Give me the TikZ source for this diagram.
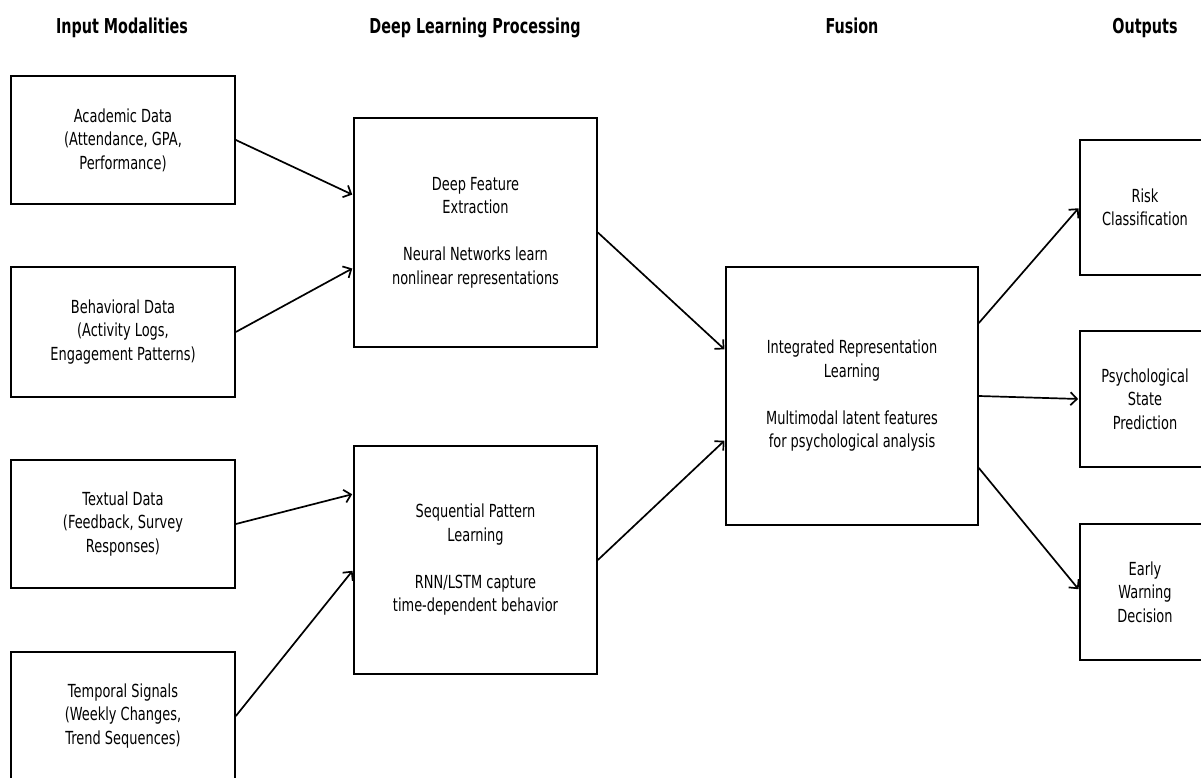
\documentclass[tikz,border=0pt]{standalone}
\usepackage{fontspec}
\setmainfont{DejaVu Sans}[FakeStretch=0.72]
\newfontfamily\ttlfont{DejaVu Sans Bold}[FakeStretch=0.70]
\usetikzlibrary{arrows.meta}
\newcommand\dfs{\fontsize{18pt}{23.5pt}\selectfont}
\begin{document}
\begin{tikzpicture}[x=1pt,y=-1pt,
  box/.style={draw, line width=1.7pt, inner sep=0pt, align=center, font=\dfs},
  ttl/.style={font=\ttlfont\fontsize{20.5pt}{24pt}\selectfont, inner sep=0pt, anchor=base},
  arr/.style={line width=1.7pt, -{Straight Barb[length=6.5pt,width=13pt]}, shorten >=1pt}]
\clip (0,0) rectangle (1201,778);
% titles
\node[ttl] (t1) at (122,34) {Input Modalities};
\node[ttl] (t2) at (475,34) {Deep Learning Processing};
\node[ttl] (t3) at (852,34) {Fusion};
\node[ttl] (t4) at (1145,34) {Outputs};
% inputs
\node[box, minimum width=224pt, minimum height=128pt] (acad) at (123,140) {Academic Data\\(Attendance, GPA,\\Performance)};
\node[box, minimum width=224pt, minimum height=130pt] (behav) at (123,332) {Behavioral Data\\(Activity Logs,\\Engagement Patterns)};
\node[box, minimum width=224pt, minimum height=128pt] (textd) at (123,524) {Textual Data\\(Feedback, Survey\\Responses)};
\node[box, minimum width=224pt, minimum height=128pt] (temp) at (123,716) {Temporal Signals\\(Weekly Changes,\\Trend Sequences)};
% processing
\node[box, minimum width=243pt, minimum height=229pt] (df) at (475.5,232.5) {Deep Feature\\Extraction\\[23.5pt]Neural Networks learn\\nonlinear representations};
\node[box, minimum width=243pt, minimum height=228pt] (seq) at (475.5,560) {Sequential Pattern\\Learning\\[23.5pt]RNN/LSTM capture\\time-dependent behavior};
% fusion
\node[box, minimum width=252pt, minimum height=258pt] (integ) at (852,396) {Integrated Representation\\Learning\\[23.5pt]Multimodal latent features\\for psychological analysis};
% outputs
\node[box, minimum width=130pt, minimum height=135pt] (risk) at (1145,207.5) {Risk\\Classification};
\node[box, minimum width=130pt, minimum height=136pt] (psych) at (1145,399) {Psychological\\State\\Prediction};
\node[box, minimum width=130pt, minimum height=136pt] (early) at (1145,592) {Early\\Warning\\Decision};
% connectors
\draw[arr] (acad.east) -- ([yshift=37.5pt]df.west);
\draw[arr] (behav.east) -- ([yshift=-35.5pt]df.west);
\draw[arr] (textd.east) -- ([yshift=66pt]seq.west);
\draw[arr] (temp.east) -- ([yshift=-10pt]seq.west);
\draw[arr] (df.east) -- ([yshift=46pt]integ.west);
\draw[arr] (seq.east) -- ([yshift=-44pt]integ.west);
\draw[arr] ([yshift=73pt]integ.east) -- (risk.west);
\draw[arr] (integ.east) -- (psych.west);
\draw[arr] ([yshift=-72pt]integ.east) -- ([yshift=2pt]early.west);
\end{tikzpicture}
\end{document}
